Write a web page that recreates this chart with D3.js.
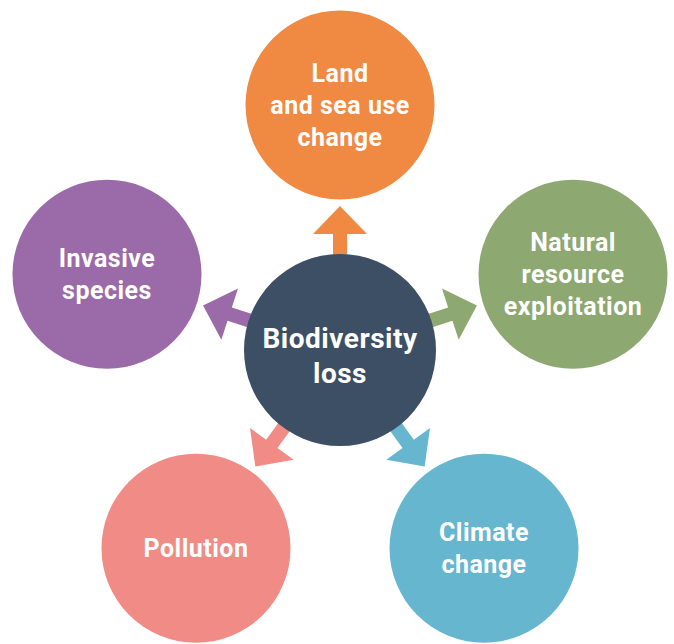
<!DOCTYPE html>
<html>
<head>
<meta charset="utf-8">
<script src="https://cdn.jsdelivr.net/npm/d3@7"></script>
<style>
  body { margin: 0; background: #fff; }
  text { font-family: Roboto, "Noto Sans", sans-serif; font-weight: 700; fill: #fff; }
</style>
</head>
<body>
<svg id="drawing_region"></svg>
<script>
// hub and the five drivers, clockwise from the top
const hubLines = ["Biodiversity", "loss"];
const drivers = ["Land and sea use change", "Natural resource exploitation", "Climate change", "Pollution", "Invasive species"];
const driverLines = [
    ["Land", "and sea use", "change"],
    ["Natural", "resource", "exploitation"],
    ["Climate", "change"],
    ["Pollution"],
    ["Invasive", "species"]
];

const config = {
    width: 674,
    height: 644,
    cx: 340,
    cy: 350,
    ring: 245,
    hubR: 96,
    nodeR: 94.5
};

const svg = d3.select('#drawing_region')
    .attr('width', config.width)
    .attr('height', config.height);

const chart = svg.append('g')
    .attr('transform', `translate(${config.cx}, ${config.cy})`);

// angle of each driver around the hub (0 = up, clockwise)
const angle = d3.scalePoint()
    .domain(drivers)
    .range([0, 2 * Math.PI * 4 / 5]);

const color = d3.scaleOrdinal()
    .domain(drivers)
    .range(['#f08942', '#8da870', '#67b6d0', '#f08b86', '#9b6aa8']);

const nodes = drivers.map((d, i) => {
    const p = d3.pointRadial(angle(d), config.ring);
    return { name: d, lines: driverLines[i], x: p[0], y: p[1] };
});

// arrows (drawn pointing up, then rotated)
const arrow = d3.path();
arrow.moveTo(-7, -60);
arrow.lineTo(-7, -116);
arrow.lineTo(-27, -116);
arrow.lineTo(0, -144);
arrow.lineTo(27, -116);
arrow.lineTo(7, -116);
arrow.lineTo(7, -60);
arrow.closePath();

chart.selectAll('.arrow')
    .data(nodes)
    .enter()
    .append('path')
    .attr('class', 'arrow')
    .attr('d', arrow.toString())
    .attr('fill', d => color(d.name))
    .attr('transform', d => `rotate(${angle(d.name) * 180 / Math.PI})`);

// hub
chart.append('circle')
    .attr('r', config.hubR)
    .attr('fill', '#3d4f65');

chart.append('text')
    .attr('text-anchor', 'middle')
    .style('font-size', '28px')
    .style('letter-spacing', '0.5px')
    .selectAll('tspan')
    .data(hubLines)
    .enter()
    .append('tspan')
    .attr('x', 0)
    .attr('y', (d, i) => (i - (hubLines.length - 1) / 2) * 35 + 15)
    .text(d => d);

// driver circles
const node = chart.selectAll('.node')
    .data(nodes)
    .enter()
    .append('g')
    .attr('class', 'node')
    .attr('transform', d => `translate(${d.x}, ${d.y})`);

node.append('circle')
    .attr('r', config.nodeR)
    .attr('fill', d => color(d.name));

node.append('text')
    .attr('text-anchor', 'middle')
    .style('font-size', '25px')
    .style('letter-spacing', '0.5px')
    .selectAll('tspan')
    .data(d => d.lines.map((t, i) => ({ t: t, i: i, n: d.lines.length })))
    .enter()
    .append('tspan')
    .attr('x', 0)
    .attr('y', d => (d.i - (d.n - 1) / 2) * 32 + 9)
    .text(d => d.t);
</script>
</body>
</html>
